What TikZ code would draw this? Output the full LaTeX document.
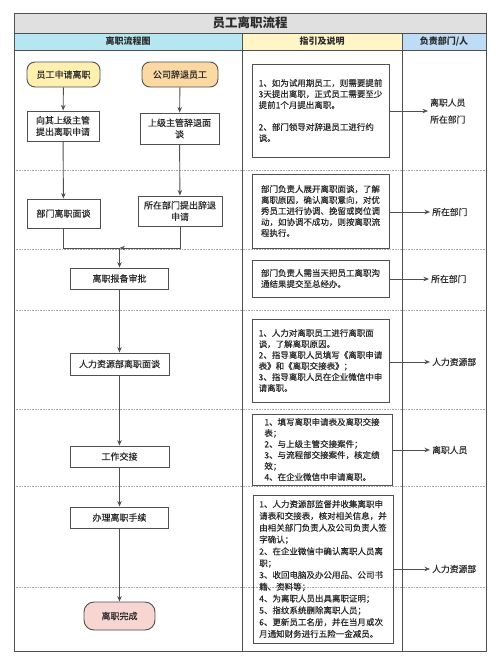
\documentclass[tikz,border=0pt]{standalone}
\usepackage{fontspec}
\setmainfont{Noto Sans CJK SC}[FakeBold=0.35]
\newfontfamily\headfont{Noto Sans CJK SC}
\usetikzlibrary{arrows.meta}
\definecolor{linegray}{HTML}{505050}
\definecolor{txt}{HTML}{2A2A2A}
\definecolor{titlebg}{HTML}{E0E0E0}
\definecolor{hcyan}{HTML}{B6E6F0}
\definecolor{hyellow}{HTML}{FFF5C6}
\definecolor{hblue}{HTML}{BEDCF5}
\definecolor{startyellow}{HTML}{FFF0B0}
\definecolor{startorange}{HTML}{FCD9A2}
\definecolor{endpink}{HTML}{F7D6D2}
\definecolor{dotgray}{HTML}{A8A8A8}
\begin{document}
\begin{tikzpicture}[x=1pt,y=-1pt,
  every node/.style={text=txt},
  procbox/.style={draw=linegray,line width=0.9pt,fill=white,inner sep=2pt,align=center,
     font=\fontsize{9}{11.5}\selectfont},
  termbox/.style={procbox,rounded corners=8pt},
  notebox/.style={draw=linegray,line width=0.9pt,inner sep=4pt,align=left,
     font=\fontsize{8.5}{11}\selectfont},
  ownertext/.style={anchor=west,inner sep=2pt,align=center,font=\fontsize{8.8}{17}\selectfont},
  flow/.style={draw=linegray,line width=0.9pt,-{Stealth[length=5.5pt,width=4.5pt]}},
  plainline/.style={draw=linegray,line width=0.9pt},
  rowsep/.style={draw=dotgray,line width=0.6pt,densely dotted},
  tableline/.style={draw=linegray,line width=0.9pt}
]
\useasboundingbox (0,0) rectangle (500,664);
% header fills
\fill[titlebg] (14,13) rectangle (486,33);
\fill[hcyan] (14,33) rectangle (242,50);
\fill[hyellow] (242,33) rectangle (402,50);
\fill[hblue] (402,33) rectangle (486,50);
\node[font=\fontsize{12.5}{14}\selectfont\headfont\bfseries] (title) at (250,23) {员工离职流程};
\node[font=\fontsize{9}{11}\selectfont\headfont\bfseries] (h1) at (128,41.5) {离职流程图};
\node[font=\fontsize{9}{11}\selectfont\headfont\bfseries] (h2) at (322,41.5) {指引及说明};
\node[font=\fontsize{9}{11}\selectfont\headfont\bfseries] (h3) at (444,41.5) {负责部门/人};
% dotted row separators
\foreach \yy in {170.7,249,310,409,486,587.5}
  \draw[rowsep] (14,\yy) -- (486,\yy);
% table lines
\draw[tableline] (14,13) rectangle (486,651);
\draw[tableline] (14,33) -- (486,33);
\draw[tableline] (14,50) -- (486,50);
\draw[tableline] (242,33) -- (242,651);
\draw[tableline] (402,33) -- (402,651);

% left column flow
\node[termbox,fill=startyellow,minimum width=73pt,minimum height=25pt] (s1) at (63.5,74.5) {员工申请离职};
\node[termbox,fill=startorange,minimum width=76pt,minimum height=25pt] (s2) at (180,74.5) {公司辞退员工};
\node[procbox,minimum width=72pt,minimum height=30pt] (a1) at (63,126) {向其上级主管\\提出离职申请};
\node[procbox,minimum width=79pt,minimum height=31pt] (b1) at (179.5,128.5) {上级主管辞退面\\谈};
\node[procbox,minimum width=73pt,minimum height=29pt] (a2) at (63.5,213.5) {部门离职面谈};
\node[procbox,minimum width=84pt,minimum height=30pt] (b2) at (180,211) {所在部门提出辞退\\申请};
\coordinate (j) at (119.5,248);
\node[procbox,minimum width=98pt,minimum height=21pt] (c1) at (119.5,278.5) {离职报备审批};
\node[procbox,minimum width=99pt,minimum height=22pt] (c2) at (119.5,364) {人力资源部离职面谈};
\node[procbox,minimum width=99pt,minimum height=21pt] (c3) at (119.5,456.5) {工作交接};
\node[procbox,minimum width=98pt,minimum height=21pt] (c4) at (119.5,517.5) {办理离职手续};
\node[termbox,fill=endpink,minimum width=71pt,minimum height=28pt,rounded corners=10pt] (c5) at (119.5,616) {离职完成};

\draw[flow] (s1) -- (a1);
\draw[flow] (s2) -- (b1);
\draw[flow] (a1) -- (a2);
\draw[flow] (b1) -- (b2);
\draw[plainline] (a2.south) |- (j);
\draw[flow] (b2.south) |- (j);
\draw[flow] (j) -- (c1.north);
\draw[flow] (c1) -- (c2);
\draw[flow] (c2) -- (c3);
\draw[flow] (c3) -- (c4);
\draw[flow] (c4) -- (c5);

% middle column notes
\node[notebox,minimum width=137pt,minimum height=93pt] (n1) at (320.5,110.5)
 {1、如为试用期员工，则需要提前\\3天提出离职，正式员工需要至少\\提前1个月提出离职。\\[11pt]2、部门领导对辞退员工进行约\\谈。};
\node[notebox,minimum width=137pt,minimum height=74pt] (n2) at (320.5,211)
 {部门负责人展开离职面谈，了解\\离职原因，确认离职意向，对优\\秀员工进行协调、挽留或岗位调\\动，如协调不成功，则按离职流\\程执行。};
\node[notebox,minimum width=137pt,minimum height=37pt] (n3) at (320.5,278.5)
 {部门负责人需当天把员工离职沟\\通结果提交至总经办。};
\node[notebox,minimum width=137pt,minimum height=83pt] (n4) at (320.5,360.5)
 {1、人力对离职员工进行离职面\\谈，了解离职原因。\\2、指导离职人员填写《离职申请\\表》和《离职交接表》；\\3、指导离职人员在企业微信中申\\请离职。};
\node[notebox,minimum width=140pt,minimum height=67pt] (n5) at (322,449.5)
 {1、填写离职申请表及离职交接\\表；\\2、与上级主管交接案件；\\3、与流程部交接案件，核定绩\\效；\\4、在企业微信中申请离职。};
\node[notebox,minimum width=140pt,minimum height=148pt,font=\fontsize{8.5}{11.8}\selectfont] (n6) at (323,569)
 {1、人力资源部监督并收集离职申\\请表和交接表，核对相关信息，并\\由相关部门负责人及公司负责人签\\字确认；\\2、在企业微信中确认离职人员离\\职；\\3、收回电脑及办公用品、公司书\\籍、资料等；\\4、为离职人员出具离职证明；\\5、指纹系统删除离职人员；\\6、更新员工名册，并在当月或次\\月通知财务进行五险一金减员。};

% right column owners
\node[ownertext] (r1) at (428,111) {离职人员\\所在部门};
\node[ownertext] (r2) at (430,212) {所在部门};
\node[ownertext] (r3) at (429,279) {所在部门};
\node[ownertext] (r4) at (430,362) {人力资源部};
\node[ownertext] (r5) at (430,450) {离职人员};
\node[ownertext] (r6) at (430,569) {人力资源部};

\draw[flow] (n1.east |- r1.west) -- (r1.west);
\draw[flow] (n2.east |- r2.west) -- (r2.west);
\draw[flow] (n3.east |- r3.west) -- (r3.west);
\draw[flow] (n4.east |- r4.west) -- (r4.west);
\draw[flow] (n5.east |- r5.west) -- (r5.west);
\draw[flow] (n6.east |- r6.west) -- (r6.west);
\end{tikzpicture}
\end{document}
